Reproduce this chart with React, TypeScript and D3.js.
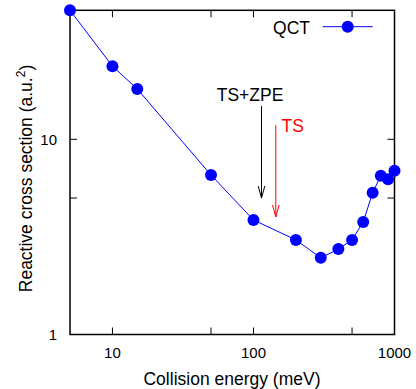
import React from "react";
import * as d3 from "d3";

const energies = [5, 10, 15, 50, 100, 200, 300, 400, 500, 600, 700, 800, 900, 1000];
const crossSections = [45.8, 23.7, 18.1, 6.56, 3.86, 3.05, 2.47, 2.74, 3.05, 3.77, 5.33, 6.51, 6.24, 6.91];
const xTickValues = [10, 50, 100, 500, 1000];
const xTickLabels = ["10", "", "100", "", "1000"];
const yTickValues = [1, 5, 10];
const yTickLabels = ["1", "", "10"];
const arrowLabels = ["TS+ZPE", "TS"];
const arrowEnergies = [114, 144];
const arrowTops = [14.8, 11.8];
const arrowBottoms = [5.0, 4.0];
const arrowColors = ["#000000", "#ff0000"];

const W = 416, H = 389;
const L = 70, R = 394.5, T = 10.3, B = 334.5;
const FONT = "'Liberation Sans', Arial, Helvetica, sans-serif";

export default function App() {
  const x = d3.scaleLog().domain([5, 1000]).range([L, R]);
  const y = d3.scaleLog().domain([1, 45.8]).range([B, T]);
  const pts: [number, number][] = energies.map((e, i) => [e, crossSections[i]]);
  const line = d3.line<[number, number]>().x(d => x(d[0])).y(d => y(d[1]));
  const tickLen = 7;
  const blue = "#0000ff";

  return (
    <svg width={W} height={H} style={{ position: "absolute", left: 0, top: 0 }} fontFamily={FONT}>
      <rect x={0} y={0} width={W} height={H} fill="#fff" />
      {/* ticks */}
      {xTickValues.map((v, i) => (
        <g key={"xt" + i}>
          <line x1={x(v)} x2={x(v)} y1={B} y2={B - tickLen} stroke="#000" strokeWidth={1} />
          <line x1={x(v)} x2={x(v)} y1={T} y2={T + tickLen} stroke="#000" strokeWidth={1} />
          {xTickLabels[i] && (
            <text x={x(v)} y={357.5} fontSize={15} textAnchor="middle" fill="#000">{xTickLabels[i]}</text>
          )}
        </g>
      ))}
      {yTickValues.map((v, i) => (
        <g key={"yt" + i}>
          <line x1={L} x2={L + tickLen} y1={y(v)} y2={y(v)} stroke="#000" strokeWidth={1} />
          <line x1={R} x2={R - tickLen} y1={y(v)} y2={y(v)} stroke="#000" strokeWidth={1} />
          {yTickLabels[i] && (
            <text x={57} y={y(v) + 5.3} fontSize={15} textAnchor="end" fill="#000">{yTickLabels[i]}</text>
          )}
        </g>
      ))}
      {/* frame */}
      <rect x={L} y={T} width={R - L} height={B - T} fill="none" stroke="#000" strokeWidth={1.5} />
      {/* data */}
      <path d={line(pts) || ""} fill="none" stroke={blue} strokeWidth={1} />
      {pts.map((p, i) => (
        <circle key={"p" + i} cx={x(p[0])} cy={y(p[1])} r={6} fill={blue} />
      ))}
      {/* arrows */}
      {arrowEnergies.map((e, i) => {
        const ax = x(e), y1 = y(arrowTops[i]), y2 = y(arrowBottoms[i]);
        const c = arrowColors[i];
        return (
          <g key={"a" + i} stroke={c} strokeWidth={1} fill="none">
            <line x1={ax} x2={ax} y1={y1} y2={y2} />
            <polyline points={`${ax - 3.3},${y2 - 12} ${ax},${y2} ${ax + 3.3},${y2 - 12}`} />
          </g>
        );
      })}
      <text x={250} y={101} fontSize={17.5} textAnchor="middle" fill={arrowColors[0]}>{arrowLabels[0]}</text>
      <text x={281.5} y={131.7} fontSize={17.5} textAnchor="start" fill={arrowColors[1]}>{arrowLabels[1]}</text>
      {/* legend */}
      <text x={310} y={34} fontSize={17.5} textAnchor="end" fill="#000">QCT</text>
      <line x1={322.7} x2={372.7} y1={26.7} y2={26.7} stroke={blue} strokeWidth={1} />
      <circle cx={347.7} cy={26.7} r={6} fill={blue} />
      {/* axis labels */}
      <text x={232} y={385} fontSize={17.5} textAnchor="middle" fill="#000">Collision energy (meV)</text>
      <text transform="translate(32,178.5) rotate(-90)" fontSize={17.5} textAnchor="middle" fill="#000">
        Reactive cross section (a.u.<tspan dy={-7} fontSize={12}>2</tspan><tspan dy={7}>)</tspan>
      </text>
    </svg>
  );
}
